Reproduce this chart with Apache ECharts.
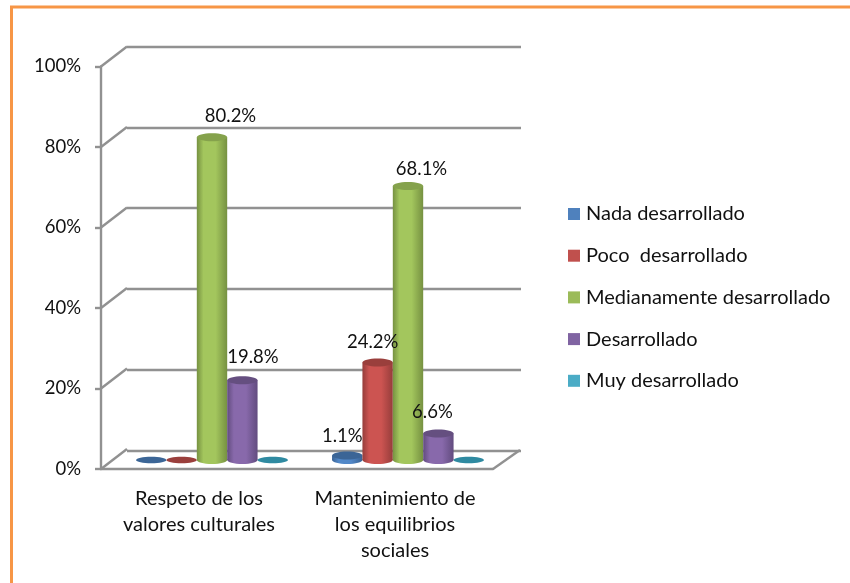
<!DOCTYPE html>
<html>
<head>
<meta charset="utf-8">
<style>html,body{margin:0;padding:0;background:#fff}#c{width:850px;height:583px}</style>
<script src="https://cdn.jsdelivr.net/npm/echarts@6/dist/echarts.min.js"></script>
</head>
<body>
<div id="c"></div>
<script>
const categories = ['Respeto de los\nvalores culturales', 'Mantenimiento de\nlos equilibrios\nsociales'];
const yTicks = [0, 20, 40, 60, 80, 100];
const seriesNames = ['Nada desarrollado', 'Poco  desarrollado', 'Medianamente desarrollado', 'Desarrollado', 'Muy desarrollado'];
const nada = [0, 1.1];
const poco = [0, 24.2];
const medianamente = [80.2, 68.1];
const desarrollado = [19.8, 6.6];
const muy = [0, 0];
const seriesValues = [nada, poco, medianamente, desarrollado, muy];

const FONT = 'Lato, "Open Sans", sans-serif';
const FS = 18.5, FS_TEXT = 20;
const GRID = '#919191', GRID_W = 2.4;
const palette = [
  {base:'#4F81BD', dark:'#3A6394', light:'#5288C8', top:'#3B6596'},
  {base:'#C0504D', dark:'#963D3B', light:'#CC5451', top:'#9A3F3C'},
  {base:'#9BBB59', dark:'#769141', light:'#A3C65D', top:'#85A24C'},
  {base:'#8064A2', dark:'#624C7F', light:'#8869AB', top:'#654F80'},
  {base:'#4BACC6', dark:'#31849A', light:'#4FB6D1', top:'#2F8AA1'}
];
// label placement relative to the cylinder top, per series / category
const labelShift = [
  [null, [-5, -20]],
  [null, [-5, -21]],
  [[18.5, -21], [13.5, -17]],
  [[10.5, -23], [-6, -21]],
  [null, null]
];
const DEPTH_X = 26, DEPTH_Y = -20, BAR_DX = 13, BAR_DY = -9, RY = 4;

function barRender(si) {
  return function (params, api) {
    const cat = api.value(0), v = api.value(1);
    const band = api.size([1, 0])[0];
    const slot = band * 0.155;
    const p = api.coord([cat, v]), p0 = api.coord([cat, 0]);
    const cx = p[0] + BAR_DX + (si - 2) * slot;
    const yTop = p[1] + BAR_DY, yBase = p0[1] + BAR_DY;
    const rx = slot / 2;
    const c = palette[si];
    const grad = {type:'linear', x:0, y:0, x2:1, y2:0, colorStops:[
      {offset:0, color:c.dark},{offset:0.22, color:c.light},{offset:0.62, color:c.light},{offset:1, color:c.dark}]};
    const children = [];
    if (v > 0) {
      children.push({type:'ellipse', shape:{cx, cy:yBase, rx, ry:RY}, style:{fill:grad}});
      children.push({type:'rect', shape:{x:cx - rx, y:yTop, width:slot, height:yBase - yTop}, style:{fill:grad}});
      children.push({type:'ellipse', shape:{cx, cy:yTop, rx, ry:RY}, style:{fill:c.top}});
      const s = labelShift[si][cat] || [0, -20];
      children.push({type:'text', z2:50, style:{text:v.toFixed(1) + '%', x:cx + s[0], y:yTop + s[1],
        textAlign:'center', textVerticalAlign:'middle', font:FS + 'px ' + FONT, fill:'#111'}});
    } else {
      children.push({type:'ellipse', shape:{cx, cy:yBase, rx, ry:3.3}, style:{fill:c.top}});
    }
    return {type:'group', children};
  };
}

const lineStyle = {stroke:GRID, lineWidth:GRID_W, fill:null};
const chart = echarts.init(document.getElementById('c'));
chart.setOption({
  animation:false,
  backgroundColor:'#fff',
  textStyle:{fontFamily:FONT},
  graphic:[{type:'rect', silent:true, shape:{x:11.5, y:7, width:1000, height:800}, style:{fill:null, stroke:'#F79646', lineWidth:3}}],
  legend:{
    orient:'vertical', left:563, top:199, itemWidth:12, itemHeight:12, itemGap:21.7, icon:'rect',
    data:seriesNames, selectedMode:false,
    textStyle:{fontFamily:FONT, fontSize:FS_TEXT, color:'#111', lineHeight:20, padding:[0,0,0,1]}
  },
  grid:[
    {left:101, width:392, top:66.5, height:402.5},
    {left:127, width:394, top:46.5, height:404}
  ],
  xAxis:[
    {type:'category', gridIndex:0, data:categories,
     axisLine:{lineStyle:{color:GRID, width:GRID_W}}, axisTick:{length:7, lineStyle:{color:GRID, width:GRID_W}},
     axisLabel:{margin:17, interval:0, fontFamily:FONT, fontSize:FS_TEXT, color:'#111', lineHeight:26}},
    {type:'value', gridIndex:1, min:0, max:1, show:false, splitLine:{show:false}}
  ],
  yAxis:[
    {type:'value', gridIndex:0, min:0, max:100, interval:20,
     axisLine:{show:true, lineStyle:{color:GRID, width:GRID_W}}, axisTick:{show:true, length:6, lineStyle:{color:GRID, width:GRID_W}},
     axisLabel:{formatter:'{value}%', color:'#111', fontFamily:FONT, fontSize:FS, margin:20},
     splitLine:{show:false}},
    {type:'value', gridIndex:1, min:0, max:100, interval:20,
     axisLine:{show:false}, axisTick:{show:false}, axisLabel:{show:false},
     splitLine:{show:true, lineStyle:{color:GRID, width:GRID_W, type:'solid'}}}
  ],
  series:[
    {type:'custom', name:'depth', silent:true, xAxisIndex:0, yAxisIndex:0, z:1, clip:false,
     data:yTicks.map(t => [0, t]),
     renderItem:function (params, api) {
       const band = api.size([1, 0])[0];
       const p = api.coord([0, api.value(1)]);
       const x = p[0] - band / 2;
       const kids = [{type:'line', shape:{x1:x, y1:p[1], x2:x + DEPTH_X, y2:p[1] + DEPTH_Y}, style:lineStyle}];
       if (api.value(1) === 0) {
         const xr = p[0] + band * 1.5;
         kids.push({type:'line', shape:{x1:xr, y1:p[1], x2:xr + 27, y2:p[1] + DEPTH_Y + 1}, style:lineStyle});
       }
       return {type:'group', children:kids};
     }},
    ...seriesNames.map((name, si) => ({
      type:'custom', name, silent:true, xAxisIndex:0, yAxisIndex:0, z:5, clip:false,
      itemStyle:{color:palette[si].base},
      data:seriesValues[si].map((v, i) => [i, v]),
      encode:{x:0, y:1},
      renderItem:barRender(si)
    }))
  ]
});
</script>
</body>
</html>
